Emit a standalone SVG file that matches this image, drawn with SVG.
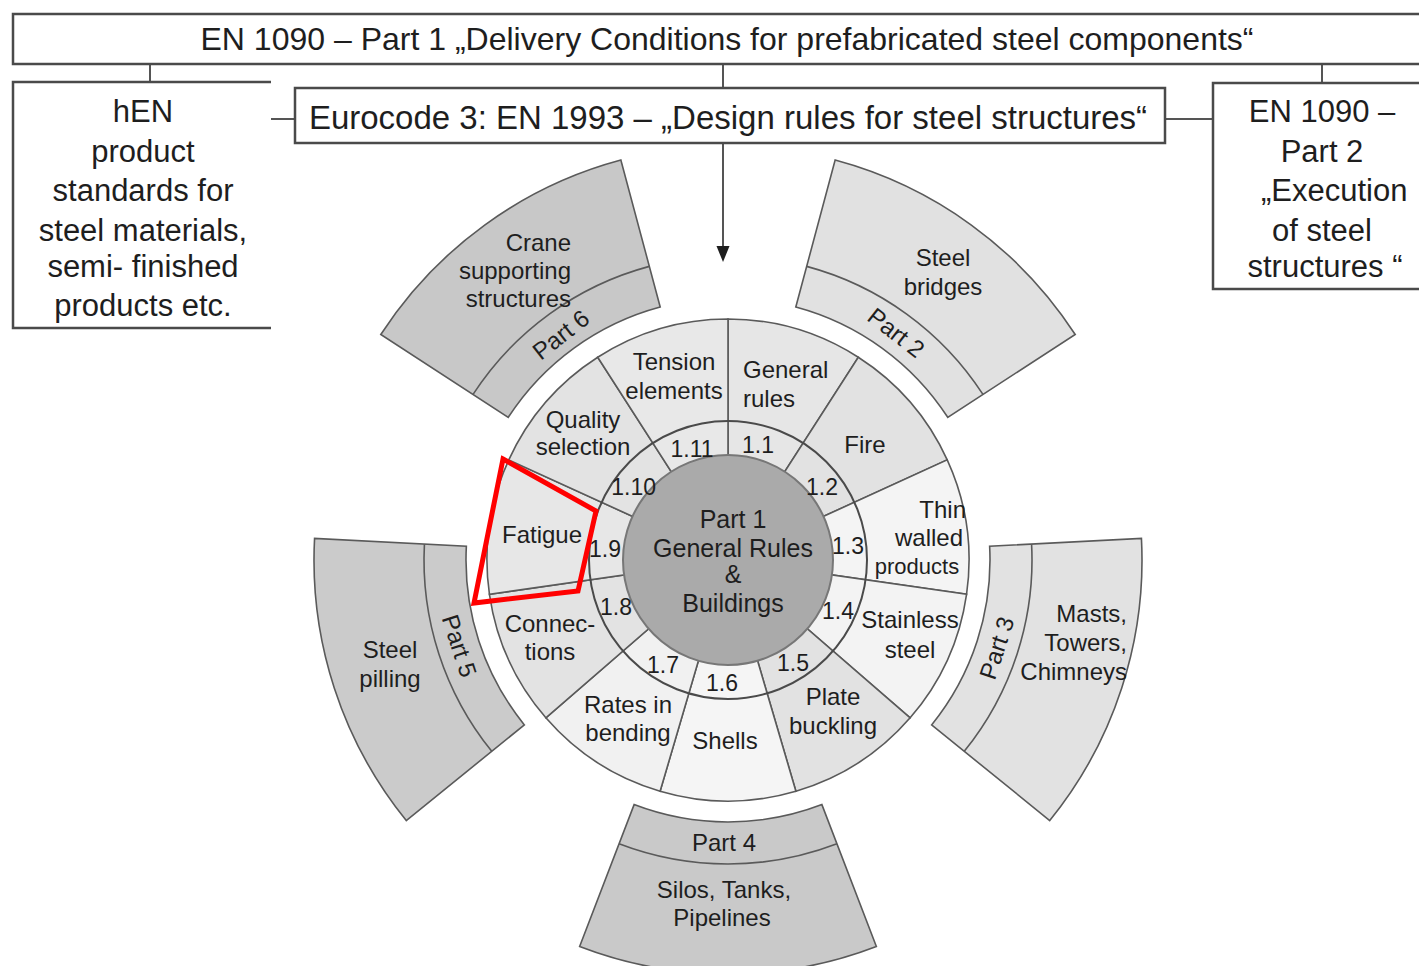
<svg xmlns="http://www.w3.org/2000/svg" width="1419" height="966" viewBox="0 0 1419 966">
<style>
text{font-family:"Liberation Sans",Arial,sans-serif;fill:#1e1e1e;}
.big{font-size:32px;text-anchor:middle;}
.box{font-size:31px;text-anchor:middle;}
.lbl{font-size:24px;text-anchor:middle;}
.num{font-size:23px;text-anchor:middle;}
.ctr{font-size:25px;text-anchor:middle;}
.e{text-anchor:end;}
.s{text-anchor:start;}
.bx{fill:#fff;stroke:#4a4a4a;stroke-width:2.5;}
.ln{fill:none;stroke:#555;stroke-width:2;}
.seg{stroke:#5a5a5a;stroke-width:1.6;}
.div{fill:none;stroke:#5a5a5a;stroke-width:1.6;}
</style>
<rect width="1419" height="966" fill="#fff"/>

<g id="connectors">
<path class="ln" d="M150 64 V82"/>
<path class="ln" d="M723 64 V88"/>
<path class="ln" d="M1322 64 V83"/>
<path class="ln" d="M271 119 H295"/>
<path class="ln" d="M1165 119 H1213"/>
<path class="ln" d="M723 143 V248"/>
<path d="M716.5 246 L729.5 246 L723 262 Z" fill="#1e1e1e"/>
</g>

<g id="top-box">
<rect class="bx" x="13" y="14" width="1420" height="50"/>
<text class="big" x="727" y="50">EN 1090 – Part 1 „Delivery Conditions for prefabricated steel components“</text>
</g>

<g id="hen-box">
<rect x="13" y="82" width="258" height="246" fill="#fff"/>
<path class="bx" d="M271 82 H13 V328 H271" style="fill:none"/>
<text class="box" x="143" y="122">hEN</text>
<text class="box" x="143" y="162">product</text>
<text class="box" x="143" y="201">standards for</text>
<text class="box" x="143" y="241">steel materials,</text>
<text class="box" x="143" y="277">semi- finished</text>
<text class="box" x="143" y="316">products etc.</text>
</g>

<g id="eurocode-box">
<rect class="bx" x="295" y="88" width="870" height="55"/>
<text class="big" x="728" y="129" style="font-size:33px">Eurocode 3: EN 1993 – „Design rules for steel structures“</text>
</g>

<g id="en1090-2-box">
<rect class="bx" x="1213" y="83" width="230" height="206"/>
<text class="box" x="1322" y="122">EN 1090 –</text>
<text class="box" x="1322" y="162">Part 2</text>
<text class="box s" x="1261" y="201">„Execution</text>
<text class="box" x="1322" y="241">of steel</text>
<text class="box" x="1325" y="277">structures “</text>
</g>

<g id="part6">
<path class="seg" fill="#c8c8c8" d="M508.27 417.30 A262 262 0 0 1 660.19 306.93 L620.85 160.10 A414 414 0 0 0 380.79 334.52 Z"/>
<path class="div" d="M473.04 394.43 A304 304 0 0 1 649.32 266.36"/>
<text class="lbl e" x="571" y="251">Crane</text>
<text class="lbl e" x="571" y="279">supporting</text>
<text class="lbl e" x="571" y="307">structures</text>
<text class="lbl" transform="translate(561,335) rotate(-38)" y="8">Part 6</text>
</g>

<g id="part2">
<path class="seg" fill="#e1e1e1" d="M795.81 306.93 A262 262 0 0 1 947.73 417.30 L1075.21 334.52 A414 414 0 0 0 835.15 160.10 Z"/>
<path class="div" d="M806.68 266.36 A304 304 0 0 1 982.96 394.43"/>
<text class="lbl" x="943" y="266">Steel</text>
<text class="lbl" x="943" y="295">bridges</text>
<text class="lbl" transform="translate(896,333) rotate(38)" y="8">Part 2</text>
</g>

<g id="part3">
<path class="seg" fill="#e2e2e2" d="M989.64 546.29 A262 262 0 0 1 931.61 724.88 L1049.74 820.54 A414 414 0 0 0 1141.43 538.33 Z"/>
<path class="div" d="M1031.58 544.09 A304 304 0 0 1 964.25 751.31"/>
<text class="lbl e" x="1127" y="622">Masts,</text>
<text class="lbl e" x="1127" y="651">Towers,</text>
<text class="lbl e" x="1127" y="680">Chimneys</text>
<text class="lbl" transform="translate(997,648) rotate(-72)" y="8">Part 3</text>
</g>

<g id="part4">
<path class="seg" fill="#c9c9c9" d="M821.89 804.60 A262 262 0 0 1 634.11 804.60 L579.63 946.50 A414 414 0 0 0 876.37 946.50 Z"/>
<path class="div" d="M836.94 843.81 A304 304 0 0 1 619.06 843.81"/>
<text class="lbl" x="724" y="851">Part 4</text>
<text class="lbl" x="724" y="898">Silos, Tanks,</text>
<text class="lbl" x="722" y="926">Pipelines</text>
</g>

<g id="part5">
<path class="seg" fill="#cbcbcb" d="M524.39 724.88 A262 262 0 0 1 466.36 546.29 L314.57 538.33 A414 414 0 0 0 406.26 820.54 Z"/>
<path class="div" d="M491.75 751.31 A304 304 0 0 1 424.42 544.09"/>
<text class="lbl" x="390" y="658">Steel</text>
<text class="lbl" x="390" y="687">pilling</text>
<text class="lbl" transform="translate(459,646) rotate(72)" y="8">Part 5</text>
</g>

<g id="wheel-1-1">
<path class="seg" fill="#e6e6e6" d="M728 560 L728 319 A241 241 0 0 1 858.29 357.26 Z"/>
</g>
<g id="wheel-1-2">
<path class="seg" fill="#e2e2e2" d="M728 560 L858.29 357.26 A241 241 0 0 1 947.22 459.88 Z"/>
</g>
<g id="wheel-1-3">
<path class="seg" fill="#f4f4f4" d="M728 560 L947.22 459.88 A241 241 0 0 1 966.55 594.30 Z"/>
</g>
<g id="wheel-1-4">
<path class="seg" fill="#f3f3f3" d="M728 560 L966.55 594.30 A241 241 0 0 1 910.14 717.82 Z"/>
</g>
<g id="wheel-1-5">
<path class="seg" fill="#e2e2e2" d="M728 560 L910.14 717.82 A241 241 0 0 1 795.90 791.24 Z"/>
</g>
<g id="wheel-1-6">
<path class="seg" fill="#f5f5f5" d="M728 560 L795.90 791.24 A241 241 0 0 1 660.10 791.24 Z"/>
</g>
<g id="wheel-1-7">
<path class="seg" fill="#f1f1f1" d="M728 560 L660.10 791.24 A241 241 0 0 1 545.86 717.82 Z"/>
</g>
<g id="wheel-1-8">
<path class="seg" fill="#e3e3e3" d="M728 560 L545.86 717.82 A241 241 0 0 1 489.45 594.30 Z"/>
</g>
<g id="wheel-1-9">
<path class="seg" fill="#e7e7e7" d="M728 560 L489.45 594.30 A241 241 0 0 1 508.78 459.88 Z"/>
</g>
<g id="wheel-1-10">
<path class="seg" fill="#e3e3e3" d="M728 560 L508.78 459.88 A241 241 0 0 1 597.71 357.26 Z"/>
</g>
<g id="wheel-1-11">
<path class="seg" fill="#e8e8e8" d="M728 560 L597.71 357.26 A241 241 0 0 1 728 319 Z"/>
</g>
<circle cx="728" cy="560" r="139" fill="none" stroke="#4a4a4a" stroke-width="2"/>

<g id="part1-center">
<circle cx="728" cy="560" r="105" fill="#aaaaaa" stroke="#777" stroke-width="2"/>
<text class="ctr" x="733" y="528">Part 1</text>
<text class="ctr" x="733" y="557">General Rules</text>
<text class="ctr" x="733" y="583">&amp;</text>
<text class="ctr" x="733" y="612">Buildings</text>
</g>

<g id="wheel-labels">
<text class="lbl" x="674" y="370">Tension</text>
<text class="lbl" x="674" y="399">elements</text>
<text class="lbl s" x="743" y="378">General</text>
<text class="lbl s" x="743" y="407">rules</text>
<text class="lbl" x="865" y="453">Fire</text>
<text class="lbl e" x="966" y="518">Thin</text>
<text class="lbl" x="929" y="546">walled</text>
<text class="lbl" x="917" y="574" style="font-size:22px">products</text>
<text class="lbl" x="910" y="628">Stainless</text>
<text class="lbl" x="910" y="658">steel</text>
<text class="lbl" x="833" y="705">Plate</text>
<text class="lbl" x="833" y="734">buckling</text>
<text class="lbl" x="725" y="749">Shells</text>
<text class="lbl" x="628" y="713">Rates in</text>
<text class="lbl" x="628" y="741">bending</text>
<text class="lbl" x="550" y="632">Connec-</text>
<text class="lbl" x="550" y="660">tions</text>
<text class="lbl" x="542" y="543">Fatigue</text>
<text class="lbl" x="583" y="428">Quality</text>
<text class="lbl" x="583" y="455">selection</text>
<text class="num" x="692" y="457">1.11</text>
<text class="num" x="758" y="453">1.1</text>
<text class="num" x="822" y="495">1.2</text>
<text class="num" x="848" y="554">1.3</text>
<text class="num" x="838" y="619">1.4</text>
<text class="num" x="793" y="671">1.5</text>
<text class="num" x="722" y="691">1.6</text>
<text class="num" x="663" y="673">1.7</text>
<text class="num" x="616" y="615">1.8</text>
<text class="num e" x="621" y="557">1.9</text>
<text class="num e" x="656" y="495">1.10</text>
</g>

<g id="highlight">
<polygon points="503,459 596,511 578,591 474,603" fill="none" stroke="#ff0000" stroke-width="5" stroke-linejoin="miter"/>
</g>
</svg>
